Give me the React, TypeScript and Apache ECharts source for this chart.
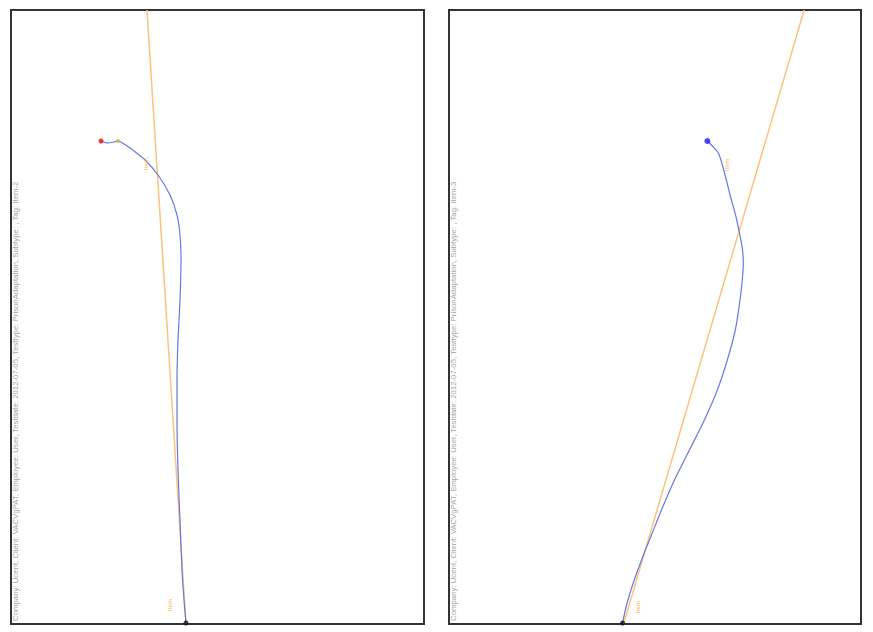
import React, { useEffect, useRef } from "react";
import * as echarts from "echarts";

// Panel 1 (Item-2): trajectory in panel units (x right, y up)
const path1: [number, number][] = [
  [90, 483], [97, 481], [103, 482], [107, 483], [113, 480], [119, 476], [134, 464], [147, 449],
  [159, 429], [166, 409], [169, 389], [170, 364], [169, 324], [167, 284],
  [166, 244], [166, 204], [167, 154], [169, 104], [171, 54], [173, 24], [175, 1],
];
const ref1: [number, number][] = [[136, 614], [175, 0]];
const start1: [number, number] = [90, 483];
const mid1: [number, number] = [107, 483];
const end1: [number, number] = [175, 1];

// Panel 2 (Item-3)
const path2: [number, number][] = [
  [259, 483], [264, 478], [270, 471], [274, 459], [278, 444], [282, 428], [287, 410],
  [291, 392], [294, 376], [295, 362], [294, 344], [291, 319], [287, 294], [279, 264],
  [269, 234], [256, 204], [241, 174], [226, 144], [213, 114], [203, 89], [193, 64],
  [184, 39], [178, 19], [174, 1],
];
const ref2: [number, number][] = [[175, 0], [356, 614]];
const start2: [number, number] = [259, 483];
const end2: [number, number] = [174, 1];

const captions = [
  "Company: Ucent, Client: VACVgPAT, Employee: User, Testdate: 2012-07-05, Testtype: PrisonAdaptation, Subtype: , Tag: Item-2",
  "Company: Ucent, Client: VACVgPAT, Employee: User, Testdate: 2012-07-05, Testtype: PrisonAdaptation, Subtype: , Tag: Item-3",
];
const refLabels = ["Item", "Item"];

const BLUE = "#6878e4";
const ORANGE = "#f9c47e";

export default function App() {
  const ref = useRef<HTMLDivElement>(null);
  useEffect(() => {
    if (!ref.current) return;
    const chart = echarts.init(ref.current, undefined, { renderer: "svg" });
    const grids = [
      { left: 11, top: 10, width: 413, height: 614 },
      { left: 449, top: 10, width: 412, height: 614 },
    ];
    const lineS = (data: [number, number][], idx: number, color: string, width: number, z: number) => ({
      type: "line",
      xAxisIndex: idx,
      yAxisIndex: idx,
      data,
      smooth: 0.3,
      showSymbol: false,
      symbol: "none",
      lineStyle: { color, width },
      z,
      silent: true,
    });
    const dot = (p: [number, number], idx: number, color: string, size: number) => ({
      type: "scatter",
      xAxisIndex: idx,
      yAxisIndex: idx,
      data: [p],
      symbolSize: size,
      itemStyle: { color },
      z: 5,
      silent: true,
    });
    const lbl = (p: [number, number], idx: number, text: string) => ({
      type: "scatter",
      xAxisIndex: idx,
      yAxisIndex: idx,
      data: [p],
      symbolSize: 0,
      label: {
        show: true,
        formatter: text,
        position: "inside",
        rotate: 90,
        fontSize: 6,
        fontWeight: "bold",
        color: "#f5b860",
        fontFamily: "Liberation Sans, Arial, sans-serif",
      },
      z: 4,
      silent: true,
    });
    chart.setOption({
      animation: false,
      backgroundColor: "#ffffff",
      grid: grids.map((g) => ({ ...g, show: true, borderColor: "#333", borderWidth: 2, backgroundColor: "transparent" })),
      xAxis: [0, 1].map((i) => ({ type: "value", gridIndex: i, min: 0, max: 413, show: false })),
      yAxis: [0, 1].map((i) => ({ type: "value", gridIndex: i, min: 0, max: 614, show: false })),
      series: [
        lineS(ref1, 0, ORANGE, 1.5, 2),
        lineS(path1, 0, BLUE, 1.2, 3),
        dot(start1, 0, "#ff0000", 5),
        dot(mid1, 0, "#b8c23a", 4),
        dot(end1, 0, "#111111", 5),
        lbl([135, 460], 0, refLabels[0]),
        lbl([159, 19], 0, refLabels[1]),
        lineS(ref2, 1, ORANGE, 1.5, 2),
        lineS(path2, 1, BLUE, 1.2, 3),
        dot(start2, 1, "#1a1aff", 6),
        dot(end2, 1, "#111111", 5),
        lbl([279, 459], 1, refLabels[0]),
        lbl([189, 17], 1, refLabels[1]),
      ],
      graphic: captions.map((t, i) => ({
        type: "text",
        x: i === 0 ? 15 : 453,
        y: 621,
        rotation: Math.PI / 2,
        style: {
          text: t,
          fontSize: 7.8,
          fill: "#a4a4a4",
          fontFamily: "Liberation Sans, Arial, sans-serif",
          textAlign: "left",
          textVerticalAlign: "middle",
        },
        z: 10,
      })),
    });
    return () => chart.dispose();
  }, []);
  return <div ref={ref} style={{ position: "fixed", left: 0, top: 0, width: 873, height: 632 }} />;
}
